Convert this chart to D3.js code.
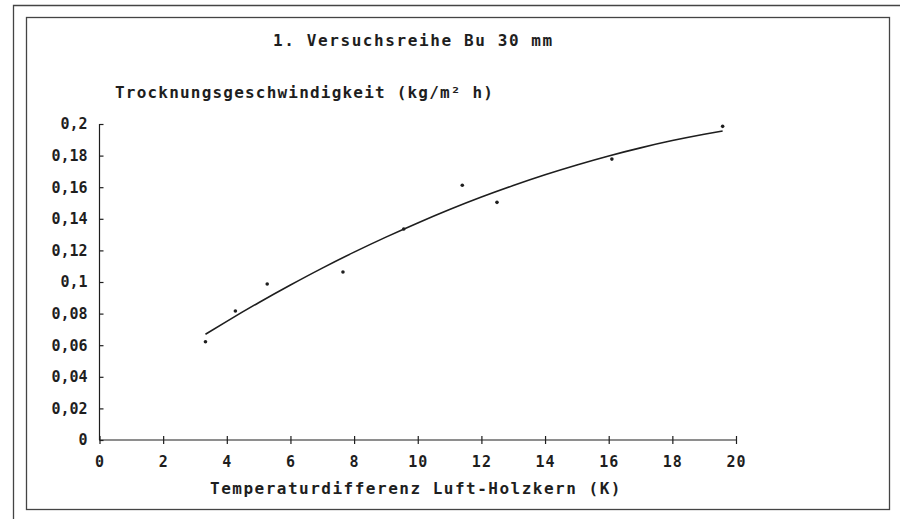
<!DOCTYPE html>
<html>
<head>
<meta charset="utf-8">
<script src="https://cdn.jsdelivr.net/npm/d3@7"></script>
<style>
  body { margin: 0; background: #fff; }
  svg text { font-family: "DejaVu Sans Mono", "Liberation Mono", monospace; fill: #1e1e1e; }
</style>
</head>
<body>
<div id="chart"></div>
<script>
// measured points (Temperaturdifferenz K, kg/m2h)
const pointX = [3.33, 4.27, 5.27, 7.65, 9.56, 11.40, 12.49, 16.10, 19.58];
const pointY = [0.0622, 0.0816, 0.0987, 0.1063, 0.1335, 0.1612, 0.1504, 0.1778, 0.1985];

// trend curve
const curveX = [3.33, 4, 5, 6, 7, 8, 9, 10, 11, 12, 13, 14, 15, 16, 17, 18, 19, 19.58];
const curveY = [0.0669, 0.0751, 0.0869, 0.0981, 0.1088, 0.1189, 0.1284, 0.1374, 0.1459,
                0.1538, 0.1611, 0.1679, 0.1741, 0.1798, 0.1849, 0.1895, 0.1935, 0.1956];

const xTicks = [0, 2, 4, 6, 8, 10, 12, 14, 16, 18, 20];
const yTicks = [0, 0.02, 0.04, 0.06, 0.08, 0.1, 0.12, 0.14, 0.16, 0.18, 0.2];

const titleText = "1. Versuchsreihe Bu 30 mm";
const yLabel = "Trocknungsgeschwindigkeit (kg/m² h)";
const xLabel = "Temperaturdifferenz Luft-Holzkern (K)";

const width = 900, height = 519;
const ink = "#1e1e1e";
const mono = "'DejaVu Sans Mono', 'Liberation Mono', monospace";

const svg = d3.select("#chart")
    .append("svg")
    .attr("width", width)
    .attr("height", height);

// frames
svg.append("path")
    .attr("d", "M13.5,519 V5.5 H900")
    .attr("fill", "none")
    .attr("stroke", "#444")
    .attr("stroke-width", 1.3);
svg.append("rect")
    .attr("x", 26.5).attr("y", 17.5)
    .attr("width", 863).attr("height", 492)
    .attr("fill", "none")
    .attr("stroke", "#444")
    .attr("stroke-width", 1.3);

const x = d3.scaleLinear().domain([0, 20]).range([99.5, 736]);
const y = d3.scaleLinear().domain([0, 0.2]).range([440, 124]);

const de = d3.formatLocale({ decimal: ",", thousands: ".", grouping: [3], currency: ["", " €"] });
const fmt = de.format("~g");

// Y axis
const yAxis = svg.append("g")
    .attr("transform", `translate(${x(0)},0)`)
    .call(d3.axisLeft(y).tickValues(yTicks).tickFormat(fmt).tickSize(4).tickPadding(8));
yAxis.selectAll(".tick line").attr("x2", 4);

// X axis
const xAxis = svg.append("g")
    .attr("transform", `translate(0,${y(0)})`)
    .call(d3.axisBottom(x).tickValues(xTicks).tickFormat(d => d).tickSize(4).tickPadding(12));
xAxis.selectAll(".tick line").attr("y1", -4);

[xAxis, yAxis].forEach(a => {
    a.select(".domain").attr("stroke", ink).attr("stroke-width", 1.2);
    a.selectAll(".tick line").attr("stroke", ink).attr("stroke-width", 1.2);
    a.selectAll(".tick text")
        .style("font-family", mono)
        .style("font-size", "15px")
        .style("font-weight", "bold")
        .attr("fill", ink);
});
xAxis.selectAll(".tick text").style("letter-spacing", "1px");
yAxis.select(".domain").attr("d", `M0,${y(0)}V${y(0.2)}`);
xAxis.select(".domain").attr("d", `M${x(0)},0H${x(20)}`);

// trend curve
const curveData = curveX.map((d, i) => [d, curveY[i]]);
svg.append("path")
    .datum(curveData)
    .attr("fill", "none")
    .attr("stroke", ink)
    .attr("stroke-width", 1.6)
    .attr("d", d3.line().x(d => x(d[0])).y(d => y(d[1])).curve(d3.curveMonotoneX));

// points
svg.selectAll(".pt")
    .data(pointX.map((d, i) => [d, pointY[i]]))
    .enter()
    .append("circle")
    .attr("class", "pt")
    .attr("cx", d => x(d[0]))
    .attr("cy", d => y(d[1]))
    .attr("r", 1.8)
    .attr("fill", ink);

// texts
function label(px, py, spacing, txt) {
    return svg.append("text")
        .attr("x", px).attr("y", py)
        .style("font-family", mono)
        .style("font-size", "16px")
        .style("font-weight", "bold")
        .style("letter-spacing", spacing)
        .text(txt);
}
label(273, 46, "1.6px", titleText);
label(115, 98, "1.2px", yLabel);
label(210, 494, "1.5px", xLabel);
</script>
</body>
</html>
